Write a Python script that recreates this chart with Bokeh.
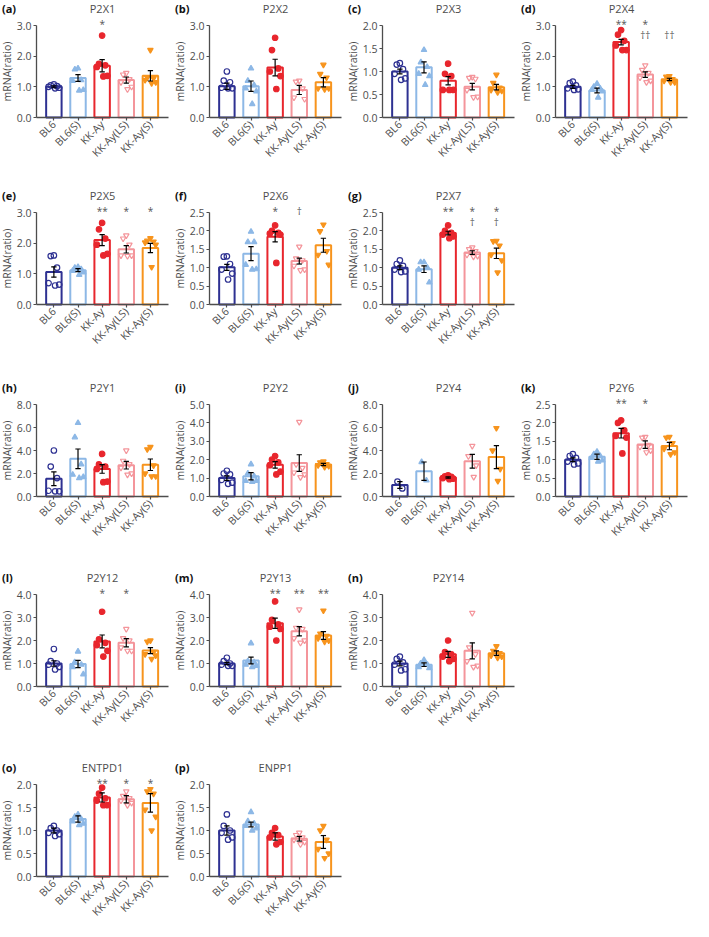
import math
import numpy as np
from bokeh.plotting import figure
from bokeh.layouts import gridplot
from bokeh.models import FixedTicker, PrintfTickFormatter, Range1d
from bokeh.core.properties import value
from bokeh.embed import file_html
from bokeh.resources import INLINE

# ---------------- data ----------------
groups = ["BL6", "BL6(S)", "KK-Ay", "KK-Ay(LS)", "KK-Ay(S)"]
group_colors = ["#2E3192", "#8DB8E6", "#E8262D", "#F4959B", "#F7941D"]
group_markers = ["circle", "triangle", "circle", "inverted_triangle", "inverted_triangle"]
group_filled = [False, True, True, False, True]

panel_letters = ["(a)", "(b)", "(c)", "(d)", "(e)", "(f)", "(g)", "(h)",
                 "(i)", "(j)", "(k)", "(l)", "(m)", "(n)", "(o)", "(p)"]
panel_genes = ["P2X1", "P2X2", "P2X3", "P2X4", "P2X5", "P2X6", "P2X7", "P2Y1",
               "P2Y2", "P2Y4", "P2Y6", "P2Y12", "P2Y13", "P2Y14", "ENTPD1", "ENPP1"]
panel_ymax = [3.0, 3.0, 2.0, 3.0, 3.0, 2.5, 2.5, 8.0, 5.0, 8.0, 2.5, 4.0, 4.0, 4.0, 2.0, 2.0]
panel_ystep = [1.0, 1.0, 0.5, 1.0, 1.0, 0.5, 0.5, 2.0, 1.0, 2.0, 0.5, 1.0, 1.0, 1.0, 0.5, 0.5]

P2X1_mean = [1.00, 1.29, 1.69, 1.22, 1.36]
P2X1_sem = [0.03, 0.11, 0.20, 0.10, 0.17]
P2X1_pts = [[1.08, 1.05, 1.02, 1.00, 0.97, 0.95], [1.60, 1.57, 1.22, 1.20, 0.90, 0.88],
            [2.67, 1.75, 1.70, 1.65, 1.36, 1.34], [1.45, 1.40, 1.25, 1.15, 1.00, 0.92],
            [2.20, 1.30, 1.28, 1.22, 1.15, 1.12]]
P2X1_sig = [["", "", "*", "", ""], ["", "", "", "", ""]]

P2X2_mean = [1.02, 1.02, 1.63, 0.90, 1.15]
P2X2_sem = [0.10, 0.17, 0.27, 0.15, 0.15]
P2X2_pts = [[1.50, 1.20, 1.15, 0.97, 0.95, 0.95], [1.60, 1.20, 1.05, 0.95, 0.85, 0.44],
            [2.60, 2.20, 1.60, 1.50, 1.35, 0.93], [1.20, 1.17, 0.95, 0.65, 0.60],
            [1.72, 1.42, 1.30, 0.95, 0.95, 0.92]]
P2X2_sig = [["", "", "", "", ""], ["", "", "", "", ""]]

P2X3_mean = [1.00, 1.09, 0.80, 0.67, 0.66]
P2X3_sem = [0.05, 0.12, 0.09, 0.07, 0.06]
P2X3_pts = [[1.18, 1.15, 1.05, 0.95, 0.85, 0.82], [1.47, 1.20, 1.10, 0.95, 0.90, 0.71],
            [1.17, 0.95, 0.90, 0.60, 0.60, 0.60], [0.88, 0.86, 0.84, 0.60, 0.45, 0.44],
            [0.93, 0.75, 0.65, 0.60, 0.58, 0.55]]
P2X3_sig = [["", "", "", "", ""], ["", "", "", "", ""]]

P2X4_mean = [1.00, 0.88, 2.46, 1.40, 1.24]
P2X4_sem = [0.05, 0.08, 0.09, 0.09, 0.04]
P2X4_pts = [[1.17, 1.12, 1.05, 0.95, 0.92, 0.90], [1.10, 1.00, 0.95, 0.90, 0.85, 0.65],
            [2.85, 2.70, 2.50, 2.35, 2.20, 2.20], [1.70, 1.55, 1.45, 1.30, 1.20, 1.15],
            [1.35, 1.33, 1.25, 1.20, 1.15, 1.15]]
P2X4_sig = [["", "", "**", "*", ""], ["", "", "", "††", "††"]]

P2X5_mean = [1.06, 1.12, 2.10, 1.80, 1.84]
P2X5_sem = [0.17, 0.05, 0.18, 0.12, 0.15]
P2X5_pts = [[1.60, 1.58, 1.20, 0.70, 0.65, 0.62], [1.22, 1.20, 1.15, 1.10, 1.05, 0.97],
            [2.66, 2.45, 2.15, 1.95, 1.65, 1.60], [2.25, 2.15, 1.95, 1.60, 1.60, 1.58],
            [2.16, 2.08, 2.05, 2.02, 1.95, 1.22]]
P2X5_sig = [["", "", "**", "*", "*"], ["", "", "", "", ""]]

P2X6_mean = [1.01, 1.38, 1.84, 1.18, 1.61]
P2X6_sem = [0.08, 0.19, 0.14, 0.08, 0.19]
P2X6_pts = [[1.31, 1.30, 1.10, 0.95, 0.84, 0.68], [1.98, 1.70, 1.70, 1.08, 0.96, 0.95],
            [2.15, 2.00, 1.95, 1.93, 1.90, 1.13], [1.57, 1.25, 1.20, 1.05, 0.95, 0.93],
            [2.17, 1.99, 1.45, 1.35, 1.08]]
P2X6_sig = [["", "", "*", "†", ""], ["", "", "", "", ""]]

P2X7_mean = [1.00, 0.96, 1.94, 1.41, 1.39]
P2X7_sem = [0.05, 0.09, 0.05, 0.05, 0.14]
P2X7_pts = [[1.20, 1.10, 1.05, 0.95, 0.90, 0.88], [1.15, 1.15, 1.00, 0.95, 0.60],
            [2.15, 2.00, 1.95, 1.90, 1.85, 1.80], [1.55, 1.50, 1.45, 1.35, 1.32, 1.30],
            [1.73, 1.72, 1.60, 1.35, 1.20, 0.87]]
P2X7_sig = [["", "", "**", "*", "*"], ["", "", "", "†", "†"]]

P2Y1_mean = [1.54, 3.28, 2.40, 2.72, 2.76]
P2Y1_sem = [0.60, 0.85, 0.38, 0.33, 0.50]
P2Y1_pts = [[4.00, 2.60, 1.60, 0.50, 0.45, 0.45], [6.40, 5.15, 2.80, 1.90, 1.70, 1.60],
            [3.70, 2.80, 2.60, 2.40, 1.30, 1.25], [4.00, 3.10, 2.80, 2.50, 2.00, 1.90],
            [4.30, 4.10, 2.70, 2.00, 1.75, 1.75]]
P2Y1_sig = [["", "", "", "", ""], ["", "", "", "", ""]]

P2Y2_mean = [1.00, 1.10, 1.72, 1.82, 1.74]
P2Y2_sem = [0.12, 0.20, 0.18, 0.45, 0.06]
P2Y2_pts = [[1.40, 1.25, 1.20, 0.90, 0.75, 0.69], [1.75, 1.25, 1.10, 0.85, 0.85, 0.80],
            [2.20, 2.00, 1.85, 1.70, 1.35, 1.20], [4.05, 1.75, 1.55, 1.30, 1.20, 1.05],
            [1.90, 1.85, 1.75, 1.70, 1.65, 1.60]]
P2Y2_sig = [["", "", "", "", ""], ["", "", "", "", ""]]

P2Y4_mean = [1.00, 2.20, 1.65, 3.07, 3.43]
P2Y4_sem = [0.30, 0.80, 0.06, 0.60, 1.00]
P2Y4_pts = [[1.30, 0.70], [3.00, 1.40], [1.85, 1.75, 1.70, 1.60, 1.55, 1.50],
            [4.40, 3.50, 2.70, 1.70], [5.95, 4.00, 2.40, 1.35]]
P2Y4_sig = [["", "", "", "", ""], ["", "", "", "", ""]]

P2Y6_mean = [1.00, 1.08, 1.72, 1.41, 1.37]
P2Y6_sem = [0.05, 0.07, 0.13, 0.10, 0.10]
P2Y6_pts = [[1.15, 1.10, 1.05, 0.95, 0.90, 0.87], [1.22, 1.15, 1.10, 1.05, 0.98, 0.95],
            [2.07, 2.00, 1.80, 1.65, 1.60, 1.17], [1.62, 1.60, 1.40, 1.35, 1.25, 1.20],
            [1.62, 1.60, 1.45, 1.30, 1.20, 1.15]]
P2Y6_sig = [["", "", "**", "*", ""], ["", "", "", "", ""]]

P2Y12_mean = [1.00, 0.98, 1.96, 1.90, 1.56]
P2Y12_sem = [0.12, 0.16, 0.28, 0.18, 0.13]
P2Y12_pts = [[1.63, 1.10, 1.00, 0.95, 0.85, 0.74], [1.52, 1.05, 0.95, 0.85, 0.53],
             [3.25, 2.05, 1.90, 1.80, 1.55, 1.30], [2.50, 2.10, 2.00, 1.70, 1.55, 1.55],
             [2.00, 1.95, 1.50, 1.40, 1.35, 1.20]]
P2Y12_sig = [["", "", "*", "*", ""], ["", "", "", "", ""]]

P2Y13_mean = [1.00, 1.13, 2.75, 2.40, 2.22]
P2Y13_sem = [0.05, 0.15, 0.22, 0.20, 0.17]
P2Y13_pts = [[1.25, 1.10, 1.00, 0.95, 0.90, 0.90], [1.88, 1.10, 1.05, 0.95, 0.90, 0.85],
             [3.70, 2.90, 2.70, 2.60, 2.50, 2.00], [3.35, 2.55, 2.50, 2.10, 2.00, 1.90],
             [3.30, 2.30, 2.20, 2.10, 2.00, 1.95]]
P2Y13_sig = [["", "", "**", "**", "**"], ["", "", "", "", ""]]

P2Y14_mean = [1.00, 0.95, 1.40, 1.55, 1.45]
P2Y14_sem = [0.10, 0.08, 0.13, 0.35, 0.10]
P2Y14_pts = [[1.30, 1.20, 1.05, 0.95, 0.75, 0.70], [1.15, 1.00, 0.95, 0.85, 0.80],
             [2.00, 1.50, 1.40, 1.30, 1.20, 1.10], [3.20, 1.70, 1.40, 1.10, 0.90, 0.85],
             [1.75, 1.55, 1.45, 1.35, 1.30, 1.25]]
P2Y14_sig = [["", "", "", "", ""], ["", "", "", "", ""]]

ENTPD1_mean = [1.00, 1.25, 1.72, 1.68, 1.60]
ENTPD1_sem = [0.05, 0.07, 0.10, 0.08, 0.20]
ENTPD1_pts = [[1.10, 1.05, 1.00, 0.95, 0.92, 0.88], [1.35, 1.30, 1.25, 1.20, 1.15, 1.12],
              [1.93, 1.80, 1.70, 1.65, 1.55, 1.55], [1.85, 1.75, 1.70, 1.65, 1.60, 1.55],
              [1.90, 1.85, 1.80, 1.45, 1.30, 1.00]]
ENTPD1_sig = [["", "", "**", "*", "*"], ["", "", "", "", ""]]

ENPP1_mean = [1.00, 1.13, 0.87, 0.82, 0.75]
ENPP1_sem = [0.10, 0.05, 0.08, 0.05, 0.14]
ENPP1_pts = [[1.35, 1.10, 1.00, 0.95, 0.85, 0.80], [1.40, 1.20, 1.15, 1.10, 1.05, 1.00],
             [1.05, 0.95, 0.90, 0.85, 0.75, 0.70], [0.95, 0.90, 0.85, 0.80, 0.75, 0.70],
             [1.10, 1.00, 0.80, 0.60, 0.50, 0.40]]
ENPP1_sig = [["", "", "", "", ""], ["", "", "", "", ""]]

panel_data = [
    (P2X1_mean, P2X1_sem, P2X1_pts, P2X1_sig), (P2X2_mean, P2X2_sem, P2X2_pts, P2X2_sig),
    (P2X3_mean, P2X3_sem, P2X3_pts, P2X3_sig), (P2X4_mean, P2X4_sem, P2X4_pts, P2X4_sig),
    (P2X5_mean, P2X5_sem, P2X5_pts, P2X5_sig), (P2X6_mean, P2X6_sem, P2X6_pts, P2X6_sig),
    (P2X7_mean, P2X7_sem, P2X7_pts, P2X7_sig), (P2Y1_mean, P2Y1_sem, P2Y1_pts, P2Y1_sig),
    (P2Y2_mean, P2Y2_sem, P2Y2_pts, P2Y2_sig), (P2Y4_mean, P2Y4_sem, P2Y4_pts, P2Y4_sig),
    (P2Y6_mean, P2Y6_sem, P2Y6_pts, P2Y6_sig), (P2Y12_mean, P2Y12_sem, P2Y12_pts, P2Y12_sig),
    (P2Y13_mean, P2Y13_sem, P2Y13_pts, P2Y13_sig), (P2Y14_mean, P2Y14_sem, P2Y14_pts, P2Y14_sig),
    (ENTPD1_mean, ENTPD1_sem, ENTPD1_pts, ENTPD1_sig), (ENPP1_mean, ENPP1_sem, ENPP1_pts, ENPP1_sig),
]

# ---------------- layout / style ----------------
FONT = "Open Sans"
GRAY = "#4d4d4d"
FIG_W = 173
ROW_H = [187, 192, 190, 190, 162]
ROWS = [[0, 1, 2, 3], [4, 5, 6], [7, 8, 9, 10], [11, 12, 13], [14, 15]]
FRAME_BOTTOM = 117      # px from figure top to the zero line
TOP_TICK = 25           # px from figure top to the top tick
TITLE_Y = 8             # px from figure top to title line
AXIS_PX = 36            # px from figure left to the y axis
END_PX = 168            # px from figure left to the end of the x axis
AXIS_X = -0.72          # data x of the y axis
X_END = 4.75            # data x of the end of the x axis

SPREAD = {2: [-0.1, 0.1], 4: [0.0, -0.16, 0.16, 0.06], 5: [0.0, -0.14, 0.14, -0.22, 0.22],
          6: [0.0, -0.13, 0.13, -0.22, 0.22, 0.05]}


def make_panel(i, height):
    means, sems, pts, sig = panel_data[i]
    ymax = panel_ymax[i]
    step = panel_ystep[i]
    fb = FRAME_BOTTOM
    ppu = (fb - TOP_TICK) / ymax
    y_top = fb / ppu
    y_bot = -(height - fb) / ppu
    xppu = (END_PX - AXIS_PX) / (X_END - AXIS_X)
    x_left = AXIS_X - AXIS_PX / xppu
    x_right = X_END + (FIG_W - END_PX) / xppu
    p = figure(width=FIG_W, height=height, x_range=Range1d(x_left, x_right),
               y_range=Range1d(y_bot, y_top), output_backend="svg", toolbar_location=None,
               tools="", min_border=0)
    p.outline_line_color = None
    p.xgrid.visible = False
    p.ygrid.visible = False
    p.background_fill_color = "white"
    p.border_fill_color = "white"

    xs = list(range(len(groups)))
    p.vbar(x=xs, top=means, width=0.64, bottom=0, fill_color="white",
           line_color=group_colors, line_width=2)

    for gi, vals in enumerate(pts):
        offs = SPREAD[len(vals)]
        px = [gi + o for o in offs]
        col = group_colors[gi]
        fill = col if group_filled[gi] else None
        p.scatter(px, vals, marker=group_markers[gi], size=5.5, line_color=col,
                  fill_color=fill, line_width=1.2)

    lo = [m - s for m, s in zip(means, sems)]
    hi = [m + s for m, s in zip(means, sems)]
    p.segment(x0=xs, y0=lo, x1=xs, y1=hi, line_color="black", line_width=1.2)
    cx0 = [x - 0.11 for x in xs]
    cx1 = [x + 0.11 for x in xs]
    p.segment(x0=cx0, y0=hi, x1=cx1, y1=hi, line_color="black", line_width=1.2)
    p.segment(x0=cx0, y0=lo, x1=cx1, y1=lo, line_color="black", line_width=1.2)

    # significance marks
    for row, yfac in ((0, 1.015), (1, 0.9)):
        tx = [x for x, t in zip(xs, sig[row]) if t]
        tt = [t for t in sig[row] if t]
        if tt:
            p.text(x=tx, y=[ymax * yfac] * len(tt), text=tt, text_font=value(FONT),
                   text_font_size="10px", text_align="center", text_baseline="middle",
                   text_color="#555555")

    # panel letter and gene title
    ty = (fb - TITLE_Y) / ppu
    p.text(x=[x_left + 0.06], y=[ty], text=[panel_letters[i]], text_font=value(FONT),
           text_font_size="11px", text_font_style="bold", text_color="#111111",
           text_align="left", text_baseline="middle")
    p.text(x=[(AXIS_X + X_END) / 2], y=[ty], text=[panel_genes[i]], text_font=value(FONT),
           text_font_size="11px", text_color=GRAY, text_align="center",
           text_baseline="middle")

    # axes (both drawn at fixed data positions inside the frame)
    yt = list(np.arange(0, ymax + step / 2, step))
    p.yaxis.ticker = FixedTicker(ticks=yt)
    p.yaxis.formatter = PrintfTickFormatter(format="%.1f")
    p.yaxis.bounds = (0, ymax)
    p.yaxis.fixed_location = AXIS_X
    p.yaxis.axis_label = "mRNA(ratio)"
    p.yaxis.axis_label_text_font = FONT
    p.yaxis.axis_label_text_font_style = "normal"
    p.yaxis.axis_label_text_font_size = "10.5px"
    p.yaxis.axis_label_text_color = GRAY
    p.yaxis.axis_label_standoff = 0

    p.xaxis.ticker = FixedTicker(ticks=xs)
    p.xaxis.bounds = (AXIS_X, X_END)
    p.xaxis.fixed_location = 0
    p.xaxis.major_label_overrides = {x: g for x, g in zip(xs, groups)}
    p.xaxis.major_label_orientation = math.pi / 4

    for ax in (p.xaxis, p.yaxis):
        ax.axis_line_color = GRAY
        ax.axis_line_width = 1.3
        ax.major_tick_line_color = GRAY
        ax.major_tick_line_width = 1.2
        ax.major_tick_in = 0
        ax.major_tick_out = 3
        ax.minor_tick_line_color = None
        ax.major_label_text_font = FONT
        ax.major_label_text_font_size = "10.5px"
        ax.major_label_text_color = GRAY
        ax.major_label_standoff = 2
    return p


grid_rows = []
for r, idxs in enumerate(ROWS):
    row = [make_panel(i, ROW_H[r]) for i in idxs]
    while len(row) < 4:
        row.append(None)
    grid_rows.append(row)

layout = gridplot(grid_rows, toolbar_location=None)

open("out.html", "w").write(file_html(layout, INLINE))
